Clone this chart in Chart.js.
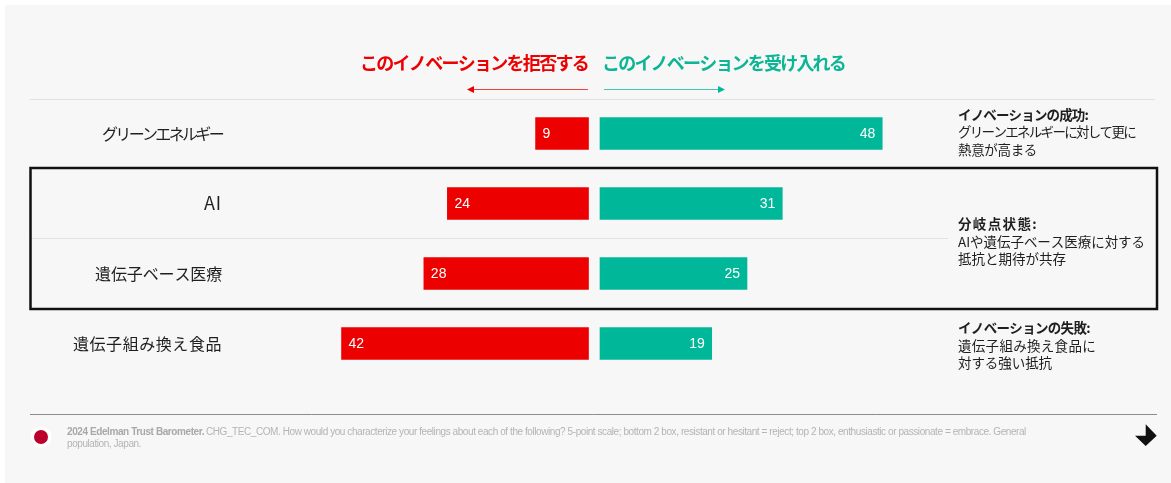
<!DOCTYPE html>
<html lang="ja">
<head>
<meta charset="utf-8">
<title>イノベーションへの受容と拒否</title>
<script src="https://cdn.jsdelivr.net/npm/chart.js@4/dist/chart.umd.js"></script>
<style>
  html, body { margin: 0; padding: 0; background: #ffffff; }
  canvas { display: block; }
</style>
</head>
<body>
<canvas id="chart" width="1171" height="483"></canvas>
<script>
let categories = ["グリーンエネルギー", "AI", "遺伝子ベース医療", "遺伝子組み換え食品"];
let rejectValues = [9, 24, 28, 42];
let embraceValues = [48, 31, 25, 19];

let rejectTitle = "このイノベーションを拒否する";
let embraceTitle = "このイノベーションを受け入れる";

let JP = '"Noto Sans CJK JP"';
let LATIN = '"Liberation Sans"';
let RED = "#ec0000";
let GREEN = "#00b899";
let INK = "#1f1f1f";

//plot frame and the two zero lines either side of the centre gap
let plotLeft = 230;
let plotRight = 900;
let rejectZero = 588.5;
let embraceZero = 600;
let pxPerUnit = 5.88;

//width given per line so the kana sit tight like the condensed UI face
let categoryWidths = [120, 18, 127, 149];

let sideNotes = [
  { text: "イノベーションの成功:", y: 115, width: 130, bold: true },
  { text: "グリーンエネルギーに対して更に", y: 132, width: 177 },
  { text: "熱意が高まる", y: 150, width: 79 },
  { text: "分岐点状態:", y: 224, width: 80, bold: true },
  { text: "AIや遺伝子ベース医療に対する", y: 242, width: 187 },
  { text: "抵抗と期待が共存", y: 259, width: 108 },
  { text: "イノベーションの失敗:", y: 328, width: 132, bold: true },
  { text: "遺伝子組み換え食品に", y: 346, width: 138 },
  { text: "対する強い抵抗", y: 363, width: 94 },
];

let sourceBold = "2024 Edelman Trust Barometer.";
let sourceLine1 = "CHG_TEC_COM. How would you characterize your feelings about each of the following? 5-point scale; bottom 2 box, resistant or hesitant = reject; top 2 box, enthusiastic or passionate = embrace. General";
let sourceLine2 = "population, Japan.";

//draw one line squeezed or stretched to an exact width
let fitText = (ctx, text, x, y, width, font, color) => {
  ctx.font = font;
  ctx.fillStyle = color;
  ctx.textAlign = "left";
  ctx.textBaseline = "middle";
  ctx.letterSpacing = "0px";
  let spacing = (width - ctx.measureText(text).width) / text.length;
  ctx.letterSpacing = spacing.toFixed(3) + "px";
  ctx.fillText(text, x, y);
  ctx.letterSpacing = "0px";
};

let hLine = (ctx, x1, x2, y, color, lineWidth) => {
  ctx.strokeStyle = color;
  ctx.lineWidth = lineWidth;
  ctx.beginPath();
  ctx.moveTo(x1, y);
  ctx.lineTo(x2, y);
  ctx.stroke();
};

let arrowHead = (ctx, tipX, y, dir, color) => {
  ctx.fillStyle = color;
  ctx.beginPath();
  ctx.moveTo(tipX, y);
  ctx.lineTo(tipX - dir * 7, y - 3.5);
  ctx.lineTo(tipX - dir * 7, y + 3.5);
  ctx.closePath();
  ctx.fill();
};

//panel background behind everything
let panelPlugin = {
  id: "panel",
  beforeDraw(chart) {
    let ctx = chart.ctx;
    ctx.save();
    ctx.fillStyle = "#ffffff";
    ctx.fillRect(0, 0, chart.width, chart.height);
    ctx.fillStyle = "#f7f7f7";
    ctx.fillRect(5, 5, chart.width - 5, chart.height - 5);
    hLine(ctx, 30, 1155, 99.5, "#e0e0e0", 1);
    hLine(ctx, 31, 948, 238.5, "#e2e2e2", 1);
    ctx.restore();
  },
};

//everything around the bars: headers, row names, value labels, notes, footer
let overlayPlugin = {
  id: "overlay",
  afterDatasetsDraw(chart) {
    let ctx = chart.ctx;
    let y = chart.scales.y;
    ctx.save();

    //row names
    categories.forEach((name, i) => {
      let w = categoryWidths[i];
      let size = name === "AI" ? "18px " : "16px ";
      fitText(ctx, name, 222 - w, y.getPixelForValue(i), w, size + JP, INK);
    });

    //value labels inside the bars
    ctx.font = "14px " + LATIN;
    ctx.fillStyle = "#ffffff";
    ctx.textBaseline = "middle";
    chart.getDatasetMeta(0).data.forEach((bar, i) => {
      ctx.textAlign = "left";
      ctx.fillText(rejectValues[i], bar.x + 7, bar.y + 1);
    });
    chart.getDatasetMeta(1).data.forEach((bar, i) => {
      ctx.textAlign = "right";
      ctx.fillText(embraceValues[i], bar.x - 7, bar.y + 1);
    });

    //column headers and arrows
    fitText(ctx, rejectTitle, 360, 63, 228, "bold 18px " + JP, RED);
    fitText(ctx, embraceTitle, 602, 63, 243, "bold 18px " + JP, "#0cb594");
    hLine(ctx, 472, 588, 89.5, "#f04040", 1);
    arrowHead(ctx, 467, 89.5, -1, RED);
    hLine(ctx, 604, 720, 89.5, "#40c8ae", 1);
    arrowHead(ctx, 725, 89.5, 1, GREEN);

    //frame around the two undecided rows
    ctx.strokeStyle = "#111111";
    ctx.lineWidth = 2.5;
    ctx.strokeRect(30.5, 168, 1126.5, 141);

    sideNotes.forEach((n) => {
      let font = (n.bold ? "bold " : "") + "13.5px " + JP;
      fitText(ctx, n.text, 958, n.y, n.width, font, INK);
    });

    //footer
    hLine(ctx, 30, 1157, 414.5, "#8c8c8c", 1);
    ctx.fillStyle = "#ffffff";
    ctx.beginPath();
    ctx.arc(41, 437, 10.5, 0, Math.PI * 2);
    ctx.fill();
    ctx.fillStyle = "#bc002d";
    ctx.beginPath();
    ctx.arc(41, 437, 7, 0, Math.PI * 2);
    ctx.fill();

    fitText(ctx, sourceBold, 67, 432, 137, "bold 10px " + LATIN, "#a8a8a8");
    fitText(ctx, sourceLine1, 206, 432, 820, "10px " + LATIN, "#b4b4b4");
    fitText(ctx, sourceLine2, 67, 444, 74, "10px " + LATIN, "#b4b4b4");

    ctx.fillStyle = "#111111";
    ctx.beginPath();
    ctx.moveTo(1156.7, 435.7);
    ctx.lineTo(1145.7, 424.3);
    ctx.lineTo(1145.7, 435.7);
    ctx.lineTo(1135, 435.7);
    ctx.lineTo(1145.7, 446);
    ctx.closePath();
    ctx.fill();

    ctx.restore();
  },
};

let myChart = new Chart(document.getElementById("chart"), {
  type: "bar",
  data: {
    labels: categories,
    datasets: [
      {
        label: rejectTitle,
        data: rejectValues,
        backgroundColor: RED,
        xAxisID: "xReject",
        barThickness: 32,
        grouped: false,
      },
      {
        label: embraceTitle,
        data: embraceValues,
        backgroundColor: GREEN,
        xAxisID: "xEmbrace",
        barThickness: 32,
        grouped: false,
      },
    ],
  },
  plugins: [panelPlugin, overlayPlugin],
  options: {
    indexAxis: "y",
    responsive: false,
    animation: false,
    layout: {
      padding: { left: plotLeft, right: 1171 - plotRight, top: 98.5, bottom: 104.5 },
    },
    scales: {
      y: {
        display: false,
      },
      //mirrored axis so the red bars grow leftwards from their own zero
      xReject: {
        display: false,
        reverse: true,
        min: (plotRight - rejectZero) / -pxPerUnit,
        max: (rejectZero - plotLeft) / pxPerUnit,
      },
      xEmbrace: {
        display: false,
        min: (plotLeft - embraceZero) / pxPerUnit,
        max: (plotRight - embraceZero) / pxPerUnit,
      },
    },
    plugins: {
      legend: { display: false },
      tooltip: { enabled: false },
    },
  },
});
</script>
</body>
</html>
